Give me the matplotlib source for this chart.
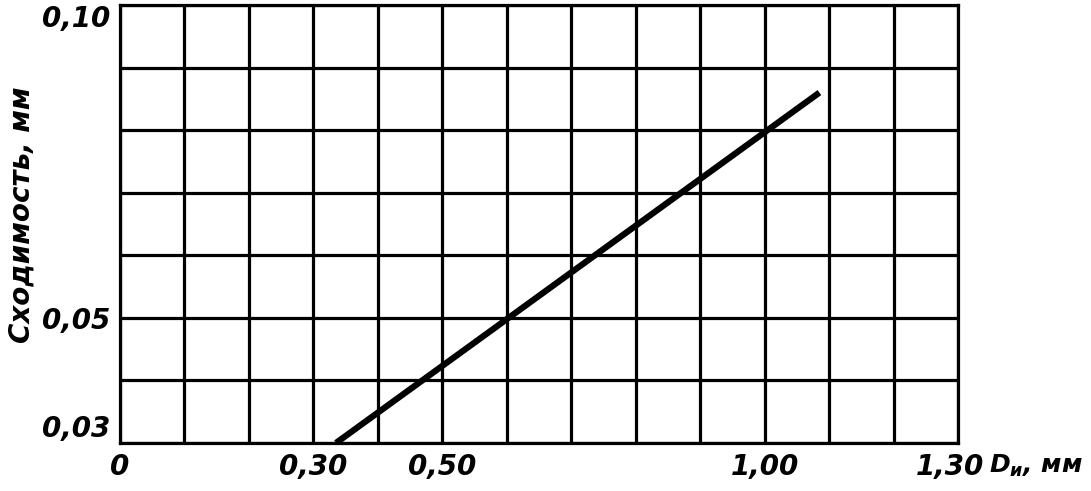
import matplotlib.pyplot as plt
from matplotlib import font_manager
from matplotlib.transforms import ScaledTranslation

# data
x_line = [0.335, 1.085]
y_line = [0.030, 0.086]

x_grid = [i / 10 for i in range(14)]
y_grid = [0.03 + i / 100 for i in range(8)]
x_ticks = [0, 0.30, 0.50, 1.00, 1.30]
x_labels = ["0", "0,30", "0,50", "1,00", "1,30"]
y_ticks = [0.03, 0.05, 0.10]
y_labels = ["0,03", "0,05", "0,10"]

names = {f.name for f in font_manager.fontManager.ttflist}

W, H = 1091, 491
fam = "DejaVu Sans Condensed" if "DejaVu Sans Condensed" in names else "DejaVu Sans"
font = dict(family=fam, style="italic", weight="bold", size=20)
plt.rcParams["mathtext.fontset"] = "custom"
plt.rcParams["mathtext.it"] = fam + ":italic:bold"
plt.rcParams["mathtext.rm"] = fam + ":bold"

fig = plt.figure(figsize=(W / 100, H / 100), dpi=100)
ax = fig.add_axes([120 / W, 48 / H, 838 / W, 438 / H])

for xv in x_grid:
    ax.axvline(xv, color="black", lw=2.3, zorder=1)
for yv in y_grid:
    ax.axhline(yv, color="black", lw=2.3, zorder=1)

ax.plot(x_line, y_line, color="black", lw=4.5, solid_capstyle="butt", zorder=3)

ax.set_xlim(0, 1.30)
ax.set_ylim(0.03, 0.10)
for s in ax.spines.values():
    s.set_linewidth(2.3)
ax.tick_params(length=0, pad=7)
ax.set_xticks(x_ticks)
ax.set_xticklabels(x_labels, fontdict=font)
ax.set_yticks(y_ticks)
ax.set_yticklabels(y_labels, fontdict=font)
yl = ax.get_yticklabels()
yl[0].set_verticalalignment("bottom")
yl[-1].set_verticalalignment("top")
last = ax.get_xticklabels()[-1]
last.set_transform(last.get_transform() + ScaledTranslation(-0.08, 0, fig.dpi_scale_trans))

# axis titles
fig.text(22 / W, 1 - 215 / H, "Сходимость, мм", rotation=90, ha="center", va="center", **font)
fig.text(989 / W, 1 - 466 / H, r"$D_{и}$, мм", ha="left", va="center",
         family=fam, style="italic", weight="bold", size=18)

fig.savefig("out.png", dpi=100)
